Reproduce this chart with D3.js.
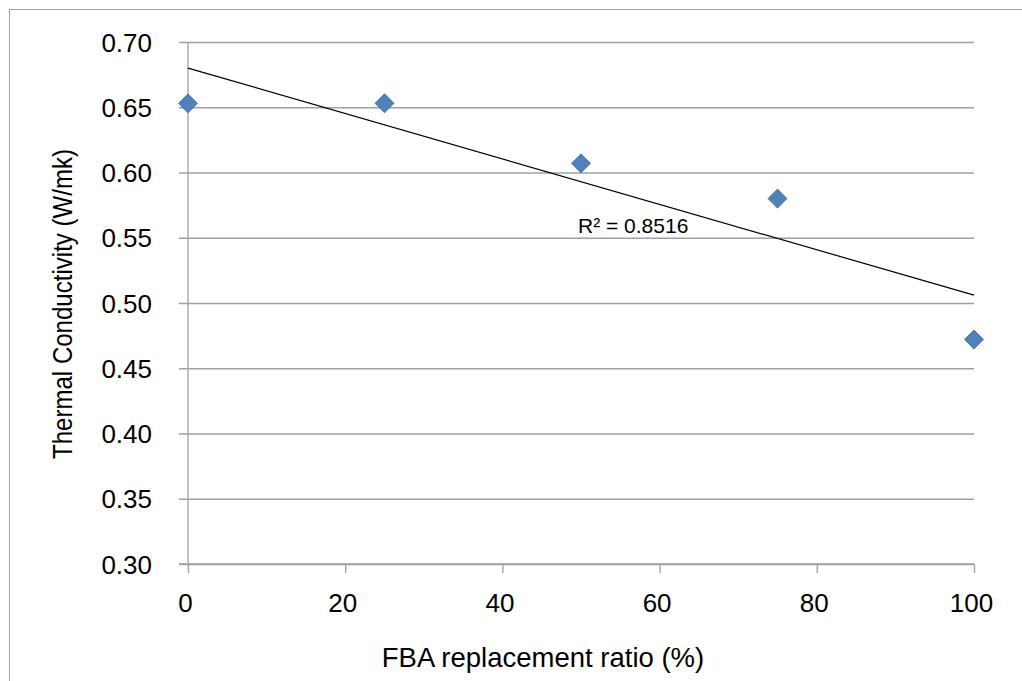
<!DOCTYPE html>
<html>
<head>
<meta charset="utf-8">
<script src="https://cdn.jsdelivr.net/npm/d3@7"></script>
<style>
  body { margin: 0; background: #fff; }
  text { font-family: "Liberation Sans", Arial, sans-serif; fill: #000; }
</style>
</head>
<body>
<div id="chart"></div>
<script>
// data
var replacement = [0, 25, 50, 75, 100];
var conductivity = [0.653, 0.653, 0.607, 0.580, 0.472];
var yTicks = [0.30, 0.35, 0.40, 0.45, 0.50, 0.55, 0.60, 0.65, 0.70];
var xTicks = [0, 20, 40, 60, 80, 100];
var r2Label = "R² = 0.8516";

var W = 1022, H = 681;
var margin = {top: 42, right: 48, bottom: 117, left: 188};

var svg = d3.select("#chart").append("svg")
  .attr("width", W).attr("height", H);

// chart frame (only top & left edges visible in the crop)
svg.append("rect")
  .attr("x", 9.5).attr("y", 9.5)
  .attr("width", 1200).attr("height", 1000)
  .attr("fill", "none").attr("stroke", "#a6a6a6").attr("stroke-width", 1);

var x = d3.scaleLinear().domain([0, 100]).range([margin.left, W - margin.right]);
var y = d3.scaleLinear().domain([0.30, 0.70]).range([H - margin.bottom, margin.top]);

var grid = "#a0a0a0";

// horizontal gridlines + y ticks
svg.append("g")
  .attr("transform", "translate(" + margin.left + ",0)")
  .call(d3.axisLeft(y).tickValues(yTicks)
    .tickSize(-(x(100) - x(0)))
    .tickFormat(d3.format(".2f")))
  .call(function(g) {
    g.select(".domain").remove();
    g.selectAll(".tick line").attr("stroke", grid).attr("stroke-width", 1.3).attr("x1", -9);
    g.selectAll(".tick text")
      .attr("x", -36).attr("dy", "0.35em")
      .style("font-size", "26px")
      .style("font-family", "Liberation Sans, Arial, sans-serif");
  });

// vertical axis line
svg.append("line")
  .attr("x1", x(0)).attr("x2", x(0))
  .attr("y1", y(0.70)).attr("y2", y(0.30))
  .attr("stroke", grid).attr("stroke-width", 1.3);

// x axis
svg.append("g")
  .attr("transform", "translate(0," + y(0.30) + ")")
  .call(d3.axisBottom(x).tickValues(xTicks).tickSize(9).tickFormat(d3.format("d")))
  .call(function(g) {
    g.select(".domain").attr("stroke", grid).attr("stroke-width", 1.3)
      .attr("d", "M" + (x(0) - 9) + ",0H" + x(100));
    g.selectAll(".tick line").attr("stroke", grid).attr("stroke-width", 1.3);
    g.selectAll(".tick text")
      .attr("y", 48).attr("dy", 0).attr("dx", -3)
      .style("font-size", "26px")
      .style("font-family", "Liberation Sans, Arial, sans-serif");
  });

// linear trend line (least squares)
var mx = d3.mean(replacement), my = d3.mean(conductivity);
var sxy = d3.sum(replacement, function(d, i) { return (d - mx) * (conductivity[i] - my); });
var sxx = d3.sum(replacement, function(d) { return (d - mx) * (d - mx); });
var slope = sxy / sxx, intercept = my - slope * mx;

svg.append("line")
  .attr("x1", x(0)).attr("y1", y(intercept))
  .attr("x2", x(100)).attr("y2", y(intercept + slope * 100))
  .attr("stroke", "#000").attr("stroke-width", 1.2);

// points
var diamond = d3.symbol().type(d3.symbolDiamond2).size(230);
svg.append("g").selectAll("path")
  .data(replacement)
  .enter().append("path")
  .attr("d", diamond)
  .attr("transform", function(d, i) { return "translate(" + x(d) + "," + y(conductivity[i]) + ")"; })
  .attr("fill", "#4f81bd")
  .attr("stroke", "#3c6496")
  .attr("stroke-width", 0.8);

// R² label
svg.append("text")
  .attr("x", 578).attr("y", 233)
  .style("font-size", "21px")
  .text(r2Label);

// axis titles
svg.append("text")
  .attr("x", 543).attr("y", 667)
  .attr("text-anchor", "middle")
  .style("font-size", "27.5px")
  .text("FBA replacement ratio (%)");

// y title looks a bit condensed in the original
svg.append("text")
  .attr("transform", "translate(72," + 304 + ") rotate(-90)")
  .attr("text-anchor", "middle")
  .attr("textLength", 310)
  .attr("lengthAdjust", "spacingAndGlyphs")
  .style("font-size", "27px")
  .text("Thermal Conductivity (W/mk)");
</script>
</body>
</html>
